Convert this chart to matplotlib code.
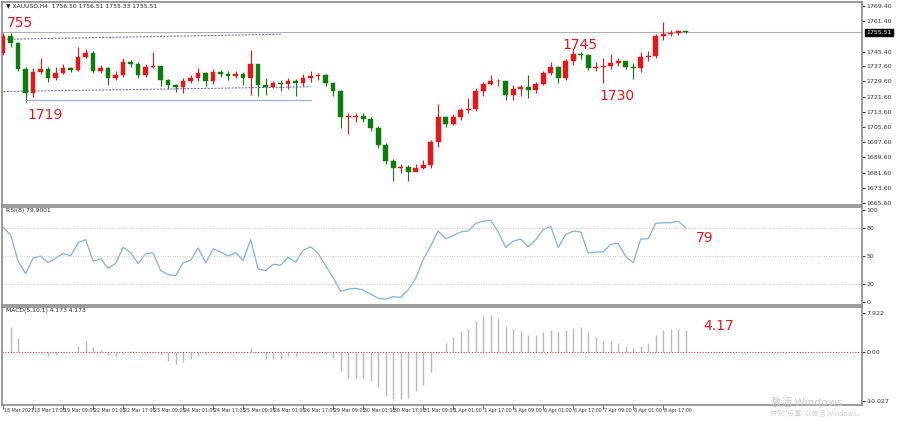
import matplotlib
matplotlib.use("Agg")
import matplotlib.pyplot as plt
import numpy as np

closes = [1753.4,1749.8,1736.3,1723.4,1734.8,1736.3,1731.2,1734.3,1736.9,1735.8,
          1742.5,1744.6,1735.3,1736.9,1731.7,1733.2,1740.0,1738.9,1733.2,1737.4,
          1737.6,1730.6,1727.5,1726.5,1730.1,1731.2,1734.3,1729.6,1734.8,1733.7,
          1732.7,1733.7,1731.7,1738.9,1727.5,1726.5,1728.6,1728.1,1730.1,1728.6,
          1731.7,1732.7,1733.0,1728.6,1724.4,1711.0,1711.3,1711.5,1710.0,1705.3,
          1696.0,1687.8,1684.1,1684.6,1682.1,1684.1,1685.7,1697.6,1711.0,1707.4,
          1711.0,1714.6,1715.2,1724.4,1728.1,1729.6,1730.0,1722.4,1725.5,1726.5,
          1725.0,1728.1,1734.3,1737.4,1731.7,1740.5,1744.1,1743.6,1736.9,1737.4,
          1737.7,1739.4,1740.5,1737.4,1736.9,1742.5,1743.1,1753.4,1754.4,1755.0,
          1756.0,1755.5]
first_open = 1744.6
highs = [1755.0,1755.2,1750.5,1737.0,1736.5,1742.0,1737.0,1737.5,1739.0,1737.5,
         1748.0,1746.5,1745.5,1738.5,1737.5,1735.0,1742.0,1741.0,1740.0,1738.8,
         1745.0,1738.0,1731.0,1728.5,1731.5,1733.0,1736.5,1734.5,1736.0,1735.5,
         1735.0,1735.0,1734.5,1746.0,1739.0,1731.5,1730.0,1730.5,1731.5,1731.0,
         1733.5,1735.0,1734.0,1733.5,1729.0,1725.0,1713.0,1713.0,1713.0,1711.0,
         1706.0,1697.0,1688.5,1686.0,1685.5,1686.0,1688.0,1698.5,1718.0,1711.5,
         1712.5,1715.5,1721.0,1726.0,1729.5,1733.0,1731.0,1730.0,1727.5,1728.0,
         1733.0,1729.5,1735.0,1740.0,1738.0,1741.5,1747.0,1745.0,1744.0,1740.0,
         1742.0,1744.0,1742.0,1740.5,1739.5,1745.0,1745.5,1754.5,1761.0,1756.5,
         1756.8,1756.2]
lows = [1743.5,1748.0,1735.0,1718.8,1721.5,1733.5,1729.5,1730.5,1733.5,1734.5,
        1735.0,1742.0,1734.0,1734.0,1727.5,1730.5,1732.0,1737.5,1731.5,1732.0,
        1736.5,1727.0,1725.5,1724.0,1723.5,1729.0,1730.0,1727.0,1728.5,1732.0,
        1730.5,1731.5,1727.5,1722.5,1722.0,1722.5,1726.0,1724.5,1725.5,1722.0,
        1727.0,1729.5,1730.5,1727.0,1722.0,1705.0,1702.0,1708.5,1708.0,1703.5,
        1694.5,1686.0,1677.0,1681.5,1677.0,1682.5,1683.5,1684.0,1695.0,1705.5,
        1706.5,1709.5,1713.0,1714.0,1722.0,1727.5,1727.0,1720.0,1720.0,1722.0,
        1721.0,1723.5,1727.5,1733.0,1729.0,1730.5,1738.5,1741.5,1735.5,1735.0,
        1729.0,1736.0,1738.0,1736.0,1731.0,1734.5,1740.5,1742.0,1751.5,1753.5,
        1754.0,1755.0]
rsi = [81,72.7,44.3,31,47.7,50,42.7,47.7,52.7,50.3,64.3,67.7,44.3,47,36.7,42,59.3,
       53.7,41.7,52.7,53.3,34.3,30,28.7,42.7,45.3,58.7,42.7,57.7,54.3,50,53.7,45,
       67.7,36,34.3,41,40,48.3,43.3,56,60,52.7,39.3,26.7,11.7,14.3,15,13.3,8.7,4.3,
       3.3,6,5.3,13.3,26,46,61,77,68.7,72,76,77,85.3,87.7,88.7,76,59.3,66,68.3,60,
       67.7,78.7,82,59.3,73.3,77,76,53.3,54.3,54.3,62.7,63.7,49.3,42.7,68.3,68.7,
       85.3,86,86,87.7,80.3]
macd = [5.1,2.9,-0.1,-0.4,-0.4,-0.9,-0.6,-0.1,0.1,1.3,2.2,1.1,0.4,-0.6,-0.9,-0.3,
        0.3,0.0,-0.1,-0.1,-0.6,-1.9,-2.5,-2.0,-1.5,-0.8,-0.4,-0.1,-0.1,-0.1,-0.1,
        -0.1,0.9,-0.1,-1.4,-1.4,-1.4,-0.9,-0.9,-0.1,-0.1,-0.1,-0.4,-1.3,-3.9,-5.2,
        -5.3,-5.3,-5.8,-7.1,-9.0,-9.6,-9.5,-9.3,-8.0,-6.8,-4.1,-0.1,1.8,3.0,4.4,4.8,
        6.3,7.3,7.6,7.0,5.4,4.8,4.4,3.5,3.5,4.0,4.6,4.0,4.6,4.9,5.1,4.0,3.0,2.3,2.3,
        1.9,1.3,0.8,1.3,1.8,3.4,4.6,4.8,4.8,4.6]
price_ticks = [1769.40,1761.40,1745.40,1737.60,1729.60,1721.60,1713.60,1705.60,
               1697.60,1689.60,1681.60,1673.60,1665.60]
date_labels = ["18 Mar 2021","18 Mar 17:00","19 Mar 09:00","22 Mar 01:00","22 Mar 17:00",
               "23 Mar 09:00","24 Mar 01:00","24 Mar 17:00","25 Mar 09:00","26 Mar 01:00",
               "26 Mar 17:00","29 Mar 09:00","30 Mar 01:00","30 Mar 17:00","31 Mar 09:00",
               "1 Apr 01:00","1 Apr 17:00","5 Apr 09:00","6 Apr 01:00","6 Apr 17:00",
               "7 Apr 09:00","8 Apr 01:00","8 Apr 17:00"]
last_price = 1755.51

UP = "#e8161b"; DN = "#0b7d0b"
W, H = 900, 421
fig = plt.figure(figsize=(9, 4.21), dpi=100)
fig.patch.set_facecolor("white")

def box(top, bot):
    return [2/W, 1-bot/H, 860/W, (bot-top)/H]

ax1 = fig.add_axes(box(2, 205))
ax2 = fig.add_axes(box(207, 305))
ax3 = fig.add_axes(box(307, 405))
n = len(closes)
idx = np.arange(n)
xl = (-0.15, 114.5)
for a in (ax1, ax2, ax3):
    a.set_xlim(*xl)
    a.set_xticks([])
    for s in a.spines.values():
        s.set_color("#8a8a8a"); s.set_linewidth(1.2)
    a.yaxis.tick_right()
    a.tick_params(axis="y", labelsize=4.5, length=2, colors="#333333", pad=1)

opens = [first_open] + closes[:-1]
for i in idx:
    o, c = opens[i], closes[i]
    col = UP if c >= o else DN
    ax1.vlines(i, lows[i], highs[i], color=col, lw=0.8, zorder=2)
    lo, hi = min(o, c), max(o, c)
    ax1.bar(i, max(hi-lo, 0.4), bottom=lo if hi-lo >= 0.4 else lo-0.2, width=0.62,
            color=col, edgecolor=col, lw=0.3, zorder=3)
ax1.set_ylim(1664.5, 1771.5)
ax1.set_yticks(price_ticks)
ax1.set_yticklabels([f"{v:.2f}" for v in price_ticks])
ax1.axhline(last_price, color="#b0b0b0", lw=0.8, zorder=1)
ax1.text(1.005, last_price, f"{last_price:.2f}", transform=ax1.get_yaxis_transform(),
         fontsize=4.5, color="white", va="center", ha="left",
         bbox=dict(boxstyle="square,pad=0.15", fc="black", ec="black"))
ax1.plot([-0.4, 37], [1751.8, 1754.5], ls=(0, (2, 1.5)), color="#5b5bb0", lw=0.7)
ax1.plot([-0.4, 41], [1724.3, 1726.8], ls=(0, (2, 1.5)), color="#5b5bb0", lw=0.7)
ax1.plot([3, 41], [1719.8, 1719.8], color="#9fb5cf", lw=0.9)
ax1.text(0.005, 0.995, "▼ XAUUSD,H4  1756.50 1756.51 1755.33 1755.51", transform=ax1.transAxes,
         fontsize=4.3, va="top", ha="left", color="#222222")
for x, y, s in [(0.5, 1760.5, "755"), (3.2, 1711.8, "1719"), (74.5, 1749.0, "1745"), (79.5, 1722.2, "1730")]:
    ax1.text(x, y, s, color=UP, fontsize=10, va="center", ha="left")

ax2.plot(idx, rsi, color="#7fb3d8", lw=0.9)
ax2.set_ylim(-3, 103)
for lv in (80, 50, 20):
    ax2.axhline(lv, color="#c8c8c8", ls=(0, (1, 1.5)), lw=0.7)
ax2.set_yticks([100, 80, 50, 20, 0])
ax2.set_yticklabels(["100", "80", "50", "20", "0"])
ax2.text(0.005, 0.985, "RSI(8) 79.9001", transform=ax2.transAxes, fontsize=4.3, va="top", color="#222222")
ax2.text(92.3, 70, "79", color=UP, fontsize=10, va="center", ha="left")

midx = np.arange(1, len(macd)+1)
ax3.vlines(midx, 0, macd, color="#b8b8b8", lw=1.0)
ax3.axhline(0, color="#d04040", ls=(0, (1, 1.5)), lw=0.8)
ax3.set_ylim(-10.8, 9.2)
ax3.set_yticks([7.922, 0, -10.027])
ax3.set_yticklabels(["7.922", "0.00", "-10.027"])
ax3.text(0.005, 0.985, "MACD(5,10,1) 4.173 4.173", transform=ax3.transAxes, fontsize=4.3, va="top", color="#222222")
ax3.text(93.3, 5.3, "4.17", color=UP, fontsize=10, va="center", ha="left")

for k, lab in enumerate(date_labels):
    i = 4*k
    ax3.plot([i, i], [-10.8, -11.6], color="#555555", lw=0.6, clip_on=False)
    ax3.text(i + 0.15, -11.4, lab, fontsize=3.4, ha="left", va="top", color="#333333", clip_on=False)

fig.text(770/W, 1-403/H, "激活 Windows", fontsize=8, color="#c8c8c8",
         fontfamily="Noto Sans CJK SC", ha="left", va="center")
fig.text(770/W, 1-414/H, "转到\"设置\"以激活 Windows。", fontsize=5, color="#d0d0d0",
         fontfamily="Noto Sans CJK SC", ha="left", va="center")
fig.savefig("out.png", dpi=100, facecolor="white")
